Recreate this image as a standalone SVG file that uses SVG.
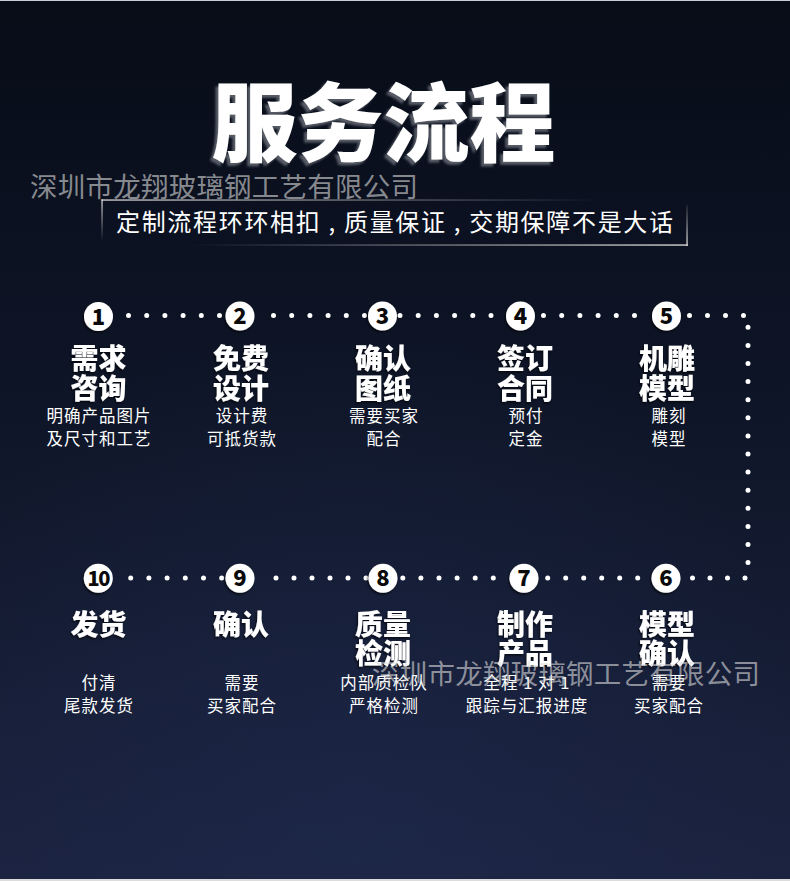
<svg xmlns="http://www.w3.org/2000/svg" width="790" height="881" viewBox="0 0 790 881">
<defs>
<linearGradient id="bg" x1="0" y1="0" x2="0" y2="1">
<stop offset="0" stop-color="#070c17"/>
<stop offset="0.45" stop-color="#0e1527"/>
<stop offset="1" stop-color="#1b2340"/>
</linearGradient>
<radialGradient id="glow" cx="0.45" cy="0.95" r="0.6">
<stop offset="0" stop-color="#1f2a4e" stop-opacity="0.5"/>
<stop offset="1" stop-color="#1f2a4e" stop-opacity="0"/>
</radialGradient>
<linearGradient id="fadeR" x1="0" y1="0" x2="1" y2="0">
<stop offset="0" stop-color="#d0d0d0" stop-opacity="0.9"/>
<stop offset="1" stop-color="#d0d0d0" stop-opacity="0"/>
</linearGradient>
<linearGradient id="fadeL" x1="0" y1="0" x2="1" y2="0">
<stop offset="0" stop-color="#d0d0d0" stop-opacity="0"/>
<stop offset="1" stop-color="#d0d0d0" stop-opacity="0.95"/>
</linearGradient>
<linearGradient id="fadeD" x1="0" y1="0" x2="0" y2="1">
<stop offset="0" stop-color="#d0d0d0" stop-opacity="0.9"/>
<stop offset="1" stop-color="#d0d0d0" stop-opacity="0"/>
</linearGradient>
<linearGradient id="fadeU" x1="0" y1="0" x2="0" y2="1">
<stop offset="0" stop-color="#d0d0d0" stop-opacity="0.1"/>
<stop offset="1" stop-color="#d0d0d0" stop-opacity="0.95"/>
</linearGradient>
<filter id="bigShadow" x="-10%" y="-10%" width="120%" height="130%">
<feDropShadow dx="-3" dy="3" stdDeviation="1.2" flood-color="#70757e" flood-opacity="0.75"/>
</filter>
<filter id="shadow" x="-20%" y="-20%" width="140%" height="140%">
<feDropShadow dx="-1" dy="1.5" stdDeviation="1" flood-color="#000" flood-opacity="0.7"/>
</filter>
</defs>
<style>
.cjk{font-family:"Noto Sans CJK SC","Noto Sans",sans-serif;}
.big{font-size:86px;font-weight:900;fill:#fff;}
.wm{font-size:27.5px;fill:#dcdcdc;fill-opacity:0.6;}
.sub{font-size:24px;fill:#fff;}
.ttl{font-size:28px;font-weight:900;fill:#fff;text-anchor:middle;filter:url(#shadow);}
.dsc{font-size:16.5px;fill:#fff;text-anchor:middle;letter-spacing:1px;}
.num{font-size:22px;font-weight:900;fill:#0a0a0a;text-anchor:middle;}
.disc{fill:#fff;filter:url(#shadow);}
.dots{fill:none;stroke:#fff;stroke-width:5;stroke-linecap:round;}
</style>
<rect width="790" height="881" fill="url(#bg)"/>
<rect width="790" height="881" fill="url(#glow)"/>
<rect x="0" y="0" width="790" height="1" fill="#c9ccd2"/>
<rect x="0" y="879" width="790" height="2" fill="#dcdcdc"/>

<g id="header">
<text class="cjk big" x="383.5" y="155" text-anchor="middle" filter="url(#bigShadow)">服务流程</text>
<text class="cjk wm" x="30" y="197" textLength="388" lengthAdjust="spacing">深圳市龙翔玻璃钢工艺有限公司</text>
<rect x="101.3" y="199.3" width="500" height="1.5" fill="url(#fadeR)"/>
<rect x="101.3" y="199.3" width="1.5" height="42" fill="url(#fadeD)"/>
<rect x="686.3" y="205" width="1.5" height="41" fill="url(#fadeU)"/>
<rect x="190" y="244.3" width="497.8" height="1.5" fill="url(#fadeL)"/>
<text class="cjk sub" x="116" y="231" textLength="557" lengthAdjust="spacing">定制流程环环相扣 , 质量保证 , 交期保障不是大话</text>
</g>

<g id="connectors">
<path class="dots" stroke-dasharray="0 18.2" d="M128.5 315.5H220"/>
<path class="dots" stroke-dasharray="0 18.2" d="M273.5 315.5H365"/>
<path class="dots" stroke-dasharray="0 18.2" d="M400 315.5H491.5"/>
<path class="dots" stroke-dasharray="0 18.2" d="M543.5 315.5H635"/>
<path class="dots" stroke-dasharray="0 18" d="M689.5 315.5H744"/>
<path class="dots" stroke-dasharray="0 18.1" d="M748 327.3V563.2"/>
<path class="dots" stroke-dasharray="0 17.5" d="M745 578H692"/>
<path class="dots" stroke-dasharray="0 18" d="M637.7 578H547.2"/>
<path class="dots" stroke-dasharray="0 18.1" d="M493.3 578H402.3"/>
<path class="dots" stroke-dasharray="0 18" d="M366 578H275.5"/>
<path class="dots" stroke-dasharray="0 18.2" d="M221.7 578H130.2"/>
</g>

<g id="step-1">
<circle class="disc" cx="98.5" cy="316.5" r="14.5"/>
<text class="cjk num" x="98.5" y="324.5">1</text>
<text class="cjk ttl" x="98.5" y="369">需求</text>
<text class="cjk ttl" x="98.5" y="399">咨询</text>
<text class="cjk dsc" x="99" y="422">明确产品图片</text>
<text class="cjk dsc" x="99" y="445">及尺寸和工艺</text>
</g>
<g id="step-2">
<circle class="disc" cx="240" cy="316" r="14.5"/>
<text class="cjk num" x="240" y="324">2</text>
<text class="cjk ttl" x="241" y="369">免费</text>
<text class="cjk ttl" x="241" y="399">设计</text>
<text class="cjk dsc" x="242" y="422">设计费</text>
<text class="cjk dsc" x="242" y="445">可抵货款</text>
</g>
<g id="step-3">
<circle class="disc" cx="382.5" cy="316" r="14.5"/>
<text class="cjk num" x="382.5" y="324">3</text>
<text class="cjk ttl" x="383" y="369">确认</text>
<text class="cjk ttl" x="383" y="399">图纸</text>
<text class="cjk dsc" x="384" y="422">需要买家</text>
<text class="cjk dsc" x="384" y="445">配合</text>
</g>
<g id="step-4">
<circle class="disc" cx="520.5" cy="316" r="14.5"/>
<text class="cjk num" x="520.5" y="324">4</text>
<text class="cjk ttl" x="525" y="369">签订</text>
<text class="cjk ttl" x="525" y="399">合同</text>
<text class="cjk dsc" x="526" y="422">预付</text>
<text class="cjk dsc" x="526" y="445">定金</text>
</g>
<g id="step-5">
<circle class="disc" cx="666.5" cy="316" r="14.5"/>
<text class="cjk num" x="666.5" y="324">5</text>
<text class="cjk ttl" x="667" y="369">机雕</text>
<text class="cjk ttl" x="667" y="399">模型</text>
<text class="cjk dsc" x="669" y="422">雕刻</text>
<text class="cjk dsc" x="669" y="445">模型</text>
</g>

<g id="step-6">
<circle class="disc" cx="666" cy="578.3" r="14.5"/>
<text class="cjk num" x="666" y="586.3">6</text>
<text class="cjk ttl" x="667" y="635">模型</text>
<text class="cjk ttl" x="667" y="664">确认</text>
<text class="cjk dsc" x="669" y="689">需要</text>
<text class="cjk dsc" x="669" y="712">买家配合</text>
</g>
<g id="step-7">
<circle class="disc" cx="524" cy="578.3" r="14.5"/>
<text class="cjk num" x="524" y="586.3">7</text>
<text class="cjk ttl" x="525" y="635">制作</text>
<text class="cjk ttl" x="525" y="664">产品</text>
<text class="cjk dsc" x="527" y="689">全程 1 对 1</text>
<text class="cjk dsc" x="527" y="712">跟踪与汇报进度</text>
</g>
<g id="step-8">
<circle class="disc" cx="383" cy="578.3" r="14.5"/>
<text class="cjk num" x="383" y="586.3">8</text>
<text class="cjk ttl" x="383" y="635">质量</text>
<text class="cjk ttl" x="383" y="664">检测</text>
<text class="cjk dsc" x="384" y="689">内部质检队</text>
<text class="cjk dsc" x="384" y="712">严格检测</text>
</g>
<g id="step-9">
<circle class="disc" cx="240" cy="578.3" r="14.5"/>
<text class="cjk num" x="240" y="586.3">9</text>
<text class="cjk ttl" x="241" y="635">确认</text>
<text class="cjk dsc" x="242" y="689">需要</text>
<text class="cjk dsc" x="242" y="712">买家配合</text>
</g>
<g id="step-10">
<circle class="disc" cx="98.3" cy="578.3" r="14.5"/>
<text class="cjk num" x="98.3" y="585.8" style="font-size:20px;letter-spacing:-1.5px">10</text>
<text class="cjk ttl" x="98.5" y="635">发货</text>
<text class="cjk dsc" x="99" y="689">付清</text>
<text class="cjk dsc" x="99" y="712">尾款发货</text>
</g>

<g id="watermark">
<text class="cjk wm" x="372" y="684" textLength="388" lengthAdjust="spacing">深圳市龙翔玻璃钢工艺有限公司</text>
</g>
</svg>
